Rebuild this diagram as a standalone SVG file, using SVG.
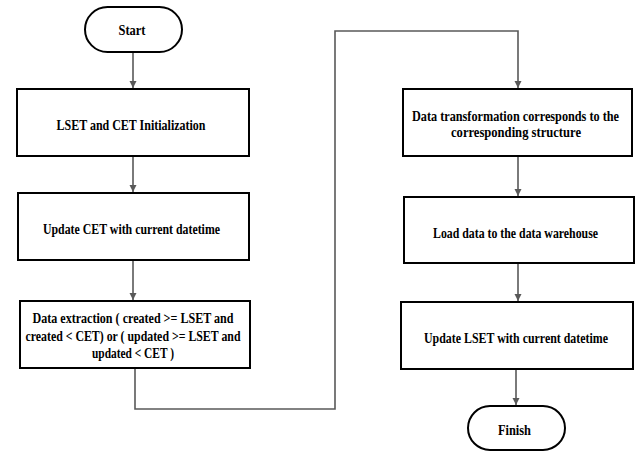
<svg xmlns="http://www.w3.org/2000/svg" width="636" height="451" viewBox="0 0 636 451">
<defs>
<marker id="ah" markerWidth="8" markerHeight="8" refX="7" refY="4" orient="auto" markerUnits="userSpaceOnUse">
<path d="M0,0.5 L7,4 L0,7.5 Z" fill="#595959"/>
</marker>
<style>
.box{fill:#fff;stroke:#000;stroke-width:2}
.t{font-family:"Liberation Serif","Times New Roman",serif;font-weight:bold;font-size:14px;fill:#000;text-anchor:middle}
.c{fill:none;stroke:#595959;stroke-width:1.6}
</style>
</defs>
<rect width="636" height="451" fill="#fff"/>
<g id="connectors">
<path class="c" d="M133,52 V88" marker-end="url(#ah)"/>
<path class="c" d="M133,156 V192" marker-end="url(#ah)"/>
<path class="c" d="M133,260 V300" marker-end="url(#ah)"/>
<path class="c" d="M135,368 V409 H335 V31 H518 V88" marker-end="url(#ah)"/>
<path class="c" d="M518,156 V196" marker-end="url(#ah)"/>
<path class="c" d="M518,263 V301" marker-end="url(#ah)"/>
<path class="c" d="M516,369 V405" marker-end="url(#ah)"/>
</g>
<g id="start">
<rect class="box" x="85" y="7" width="97" height="45" rx="22.5"/>
<text class="t" x="132" y="35" textLength="27" lengthAdjust="spacingAndGlyphs">Start</text>
</g>
<g id="init">
<rect class="box" x="17" y="89" width="232" height="67"/>
<text class="t" x="131" y="129.5" textLength="149" lengthAdjust="spacingAndGlyphs">LSET and CET Initialization</text>
</g>
<g id="updateCET">
<rect class="box" x="18" y="193" width="231" height="67"/>
<text class="t" x="131.5" y="233.5" textLength="177" lengthAdjust="spacingAndGlyphs">Update CET with current datetime</text>
</g>
<g id="extract">
<rect class="box" x="20" y="301" width="230" height="67"/>
<text class="t" x="133" y="323" textLength="201" lengthAdjust="spacingAndGlyphs">Data extraction ( created &gt;= LSET and</text>
<text class="t" x="133" y="341" textLength="215" lengthAdjust="spacingAndGlyphs">created &lt; CET) or ( updated &gt;= LSET and</text>
<text class="t" x="133" y="358" textLength="82" lengthAdjust="spacingAndGlyphs">updated &lt; CET )</text>
</g>
<g id="transform">
<rect class="box" x="403" y="89" width="229" height="67"/>
<text class="t" x="515.5" y="120.5" textLength="207" lengthAdjust="spacingAndGlyphs">Data transformation corresponds to the</text>
<text class="t" x="516" y="136.5" textLength="130" lengthAdjust="spacingAndGlyphs">corresponding structure</text>
</g>
<g id="load">
<rect class="box" x="404" y="197" width="230" height="66"/>
<text class="t" x="515.5" y="237.5" textLength="165" lengthAdjust="spacingAndGlyphs">Load data to the data warehouse</text>
</g>
<g id="updateLSET">
<rect class="box" x="401" y="302" width="232" height="67"/>
<text class="t" x="516" y="343" textLength="184" lengthAdjust="spacingAndGlyphs">Update LSET with current datetime</text>
</g>
<g id="finish">
<rect class="box" x="468" y="406" width="97" height="44" rx="22"/>
<text class="t" x="514.5" y="435" textLength="33" lengthAdjust="spacingAndGlyphs">Finish</text>
</g>
</svg>
